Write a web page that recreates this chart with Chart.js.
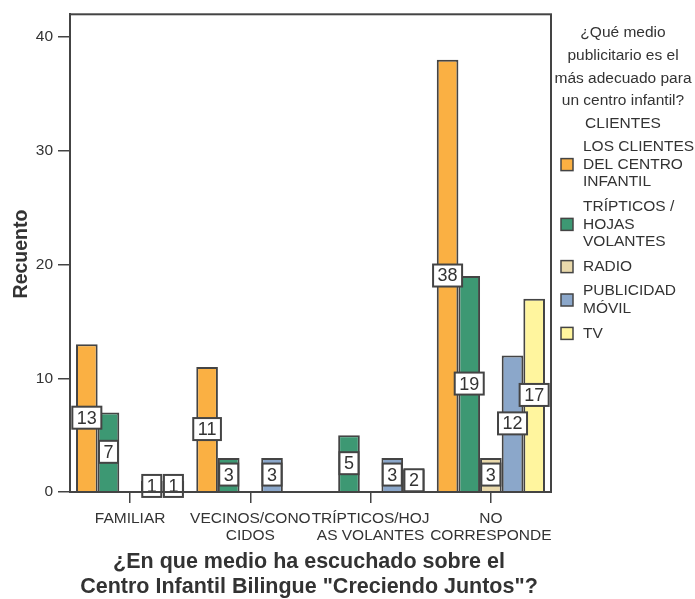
<!DOCTYPE html>
<html>
<head>
<meta charset="utf-8">
<script src="https://cdn.jsdelivr.net/npm/chart.js@4.4.1/dist/chart.umd.min.js"></script>
<style>
  html, body { margin: 0; padding: 0; background: #fff; }
  #wrap { position: relative; width: 695px; height: 599px; }
</style>
</head>
<body>
<div id="wrap"><canvas id="chart" width="695" height="599"></canvas></div>
<script>
// categories and counts per advertising medium
const categories = [['FAMILIAR'], ['VECINOS/CONO', 'CIDOS'], ['TRÍPTICOS/HOJ', 'AS VOLANTES'], ['NO', 'CORRESPONDE']];
const seriesNames = [
  ['LOS CLIENTES', 'DEL CENTRO', 'INFANTIL'],
  ['TRÍPTICOS /', 'HOJAS', 'VOLANTES'],
  ['RADIO'],
  ['PUBLICIDAD', 'MÓVIL'],
  ['TV']
];
const clientes   = [13, 11, 0, 38];
const tripticos  = [7, 3, 5, 19];
const radio      = [0, 0, 0, 3];
const publicidad = [1, 3, 3, 12];
const tv         = [1, 0, 2, 17];
const yTicks = [0, 10, 20, 30, 40];
const legendTitle = ['¿Qué medio', 'publicitario es el', 'más adecuado para', 'un centro infantil?', 'CLIENTES'];
const xTitle = ['¿En que medio ha escuchado sobre el', 'Centro Infantil Bilingue "Creciendo Juntos"?'];

const colors = ['#fab043', '#3d9873', '#e9d9ab', '#8ba7ca', '#fff59e'];
const edge = '#444444';
const FONT = '"Liberation Sans", Arial, Helvetica, sans-serif';

const values = [clientes, tripticos, radio, publicidad, tv];
const datasets = values.map((v, i) => ({
  label: seriesNames[i].join(' '),
  data: v,
  backgroundColor: colors[i],
  borderColor: edge,
  borderWidth: 2,
  categoryPercentage: 0.9,
  barPercentage: 1
}));

// white value boxes in the middle of each bar
const valueBoxes = {
  id: 'valueBoxes',
  afterDatasetsDraw(chart) {
    const ctx = chart.ctx;
    ctx.save();
    ctx.font = '18px ' + FONT;
    ctx.textAlign = 'center';
    ctx.textBaseline = 'middle';
    chart.data.datasets.forEach((ds, di) => {
      const meta = chart.getDatasetMeta(di);
      meta.data.forEach((bar, i) => {
        const v = ds.data[i];
        if (!v) return;
        const txt = String(v);
        const w = ctx.measureText(txt).width + 9;
        const h = 22;
        const cy = (bar.y + bar.base) / 2;
        ctx.fillStyle = '#fff';
        ctx.strokeStyle = edge;
        ctx.lineWidth = 2;
        ctx.fillRect(bar.x - w / 2, cy - h / 2, w, h);
        ctx.strokeRect(bar.x - w / 2, cy - h / 2, w, h);
        ctx.fillStyle = '#333';
        ctx.fillText(txt, bar.x, cy + 1);
      });
    });
    ctx.restore();
  }
};

// plot frame, axis titles and legend
const decorations = {
  id: 'decorations',
  afterDraw(chart) {
    const ctx = chart.ctx;
    const a = chart.chartArea;
    ctx.save();
    ctx.strokeStyle = edge;
    ctx.lineWidth = 2;
    ctx.strokeRect(a.left, a.top, a.right - a.left, a.bottom - a.top);

    ctx.fillStyle = '#333';
    ctx.textAlign = 'center';
    ctx.textBaseline = 'middle';
    ctx.font = 'bold 21.5px ' + FONT;
    xTitle.forEach((t, i) => ctx.fillText(t, 309, 562 + i * 25));

    ctx.save();
    ctx.translate(22, 254);
    ctx.rotate(-Math.PI / 2);
    ctx.font = 'bold 19.5px ' + FONT;
    ctx.fillText('Recuento', 0, 0);
    ctx.restore();

    ctx.font = '15.5px ' + FONT;
    legendTitle.forEach((t, i) => ctx.fillText(t, 623, 33 + i * 22.7));

    ctx.textAlign = 'left';
    let y = 147;
    const lh = 17.6;
    seriesNames.forEach((lines, i) => {
      const mid = y + (lines.length - 1) * lh / 2;
      ctx.fillStyle = colors[i];
      ctx.fillRect(561, mid - 6, 12, 12);
      ctx.strokeStyle = edge;
      ctx.lineWidth = 1.5;
      ctx.strokeRect(561, mid - 6, 12, 12);
      ctx.fillStyle = '#333';
      lines.forEach((t, k) => ctx.fillText(t, 583, y + k * lh));
      y += lines.length * lh + 7;
    });
    ctx.restore();
  }
};

new Chart(document.getElementById('chart'), {
  type: 'bar',
  data: { labels: categories, datasets },
  plugins: [valueBoxes, decorations],
  options: {
    responsive: false,
    animation: false,
    layout: { padding: { left: 0, right: 144, top: 12, bottom: 0 } },
    plugins: { legend: { display: false }, tooltip: { enabled: false } },
    scales: {
      x: {
        offset: true,
        grid: { offset: false, drawOnChartArea: false, color: edge, lineWidth: 1.5, tickLength: 11 },
        border: { color: edge, width: 2 },
        ticks: { color: '#333', font: { family: FONT, size: 15.5, lineHeight: 1.1 }, padding: 7, maxRotation: 0, autoSkip: false },
        afterFit(s) { s.height = 107; }
      },
      y: {
        min: 0,
        max: 42,
        grid: { drawOnChartArea: false, color: edge, lineWidth: 1.5, tickLength: 12 },
        border: { color: edge, width: 2 },
        ticks: {
          stepSize: 10,
          includeBounds: false,
          color: '#333',
          font: { family: FONT, size: 15.5 },
          padding: 5,
          callback: v => yTicks.includes(v) ? v : null
        },
        afterFit(s) { s.width = 70; }
      }
    }
  }
});
</script>
</body>
</html>
